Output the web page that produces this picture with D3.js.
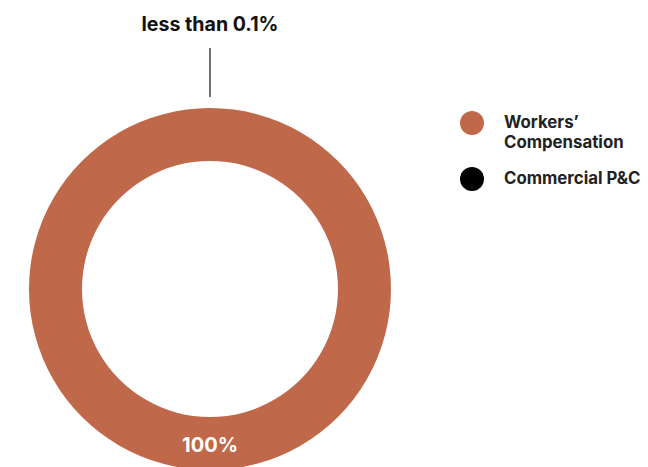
<!DOCTYPE html>
<html><head><meta charset="utf-8">
<script src="https://cdn.jsdelivr.net/npm/d3@7"></script>
<style>body{margin:0;background:#fff}svg{display:block}</style>
</head><body>
<svg id="c" width="648" height="467"></svg>
<script>
const categories = ["Workers\u2019 Compensation", "Commercial P&C"];
const legendLines = [["Workers\u2019", "Compensation"], ["Commercial P&C"]];
const values = [99.999, 0.001];
const labels = ["100%", "less than 0.1%"];
const colors = ["#C0694A", "#000000"];

const svg = d3.select("#c");
const cx = 210, cy = 289, rOut = 181, rIn = 128;
const g = svg.append("g").attr("transform", `translate(${cx},${cy})`);
const pie = d3.pie().sort(null).value(d => d)(values);
const arc = d3.arc().innerRadius(rIn).outerRadius(rOut);
g.selectAll("path").data(pie).join("path")
  .attr("d", arc).attr("fill", (d, i) => colors[i]);

// label inside
g.append("text").attr("x", 0).attr("y", 163).attr("text-anchor", "middle")
  .attr("font-family", "Inter, sans-serif").attr("font-weight", 700).attr("font-size", 20)
  .attr("fill", "#fff").text(labels[0]);

// callout for tiny slice
g.append("line").attr("x1", 0).attr("x2", 0).attr("y1", -241).attr("y2", -192)
  .attr("stroke", "#222").attr("stroke-width", 1.3);
g.append("text").attr("x", 0).attr("y", -258).attr("text-anchor", "middle")
  .attr("font-family", "Inter, sans-serif").attr("font-weight", 700).attr("font-size", 19.6)
  .attr("fill", "#111").text(labels[1]);

// legend
const leg = svg.append("g").attr("transform", "translate(472,123)");
const items = leg.selectAll("g").data(categories).join("g")
  .attr("transform", (d, i) => `translate(0,${i * 56})`);
items.append("circle").attr("r", 12).attr("fill", (d, i) => colors[i]);
items.each(function(d, i) {
  const t = d3.select(this).append("text").attr("x", 32).attr("y", 5)
    .attr("font-family", "Inter, sans-serif").attr("font-weight", 700).attr("font-size", 16.8)
    .attr("fill", "#222");
  legendLines[i].forEach((l, j) => t.append("tspan").attr("x", 32).attr("dy", j ? 20 : 0).text(l));
});
</script>
</body></html>
